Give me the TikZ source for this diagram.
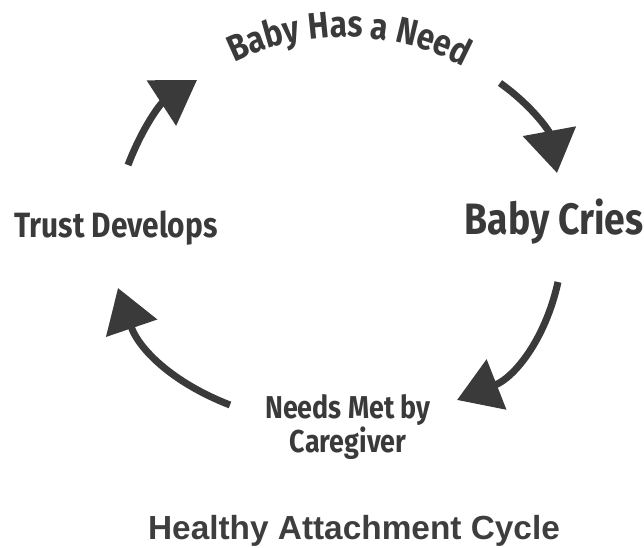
\documentclass[tikz,border=0pt]{standalone}
\usepackage{fontspec}
\newfontfamily\cyclefont[FakeStretch=0.85]{Fira Sans}
\newfontfamily\titlefont{Liberation Sans}
\definecolor{InkGray}{RGB}{58,58,58}
\definecolor{TitleGray}{RGB}{62,62,62}
\usetikzlibrary{arrows.meta,decorations.text}

\begin{document}
\begin{tikzpicture}[
  x=0.02cm, y=0.02cm,
  stage/.style={
    font=\cyclefont\bfseries,
    text=InkGray,
    inner sep=0pt,
    anchor=base
  },
  cyclearrow/.style={-{Triangle[length=0.85cm,width=1.05cm]},line width=4pt,InkGray,bend left=#1},
  cyclearrow/.default=22
]
\useasboundingbox (0,0) rectangle (644,547);

% stages of the cycle
\node[stage,font=\cyclefont\bfseries\fontsize{20}{24}\selectfont] (trust) at (116,309) {Trust Develops};
\node[stage,font=\cyclefont\bfseries\fontsize{25}{30}\selectfont] (cries) at (554,312) {Baby Cries};
\node[stage,anchor=center,align=center,font=\cyclefont\bfseries\fontsize{18}{15.5}\selectfont] (met) at (348,120) {Needs Met by\\Caregiver};
\node[stage,font=\titlefont\bfseries\fontsize{19}{23}\selectfont,text=TitleGray] (title) at (354,8) {Healthy Attachment Cycle};

% curved label on top
\coordinate (needstart) at ([shift={(124:251)}]345,259);
\path[decorate,decoration={text along path,text align=center,text color=InkGray,
  text={|\cyclefont\bfseries\fontsize{21}{25}\selectfont|Baby Has a Need}}]
  (needstart) arc[start angle=124,end angle=54,radius=251];

% arrow ends
\coordinate (a1) at (128,382);
\coordinate (b1) at (197,467);
\coordinate (a2) at (500,464);
\coordinate (b2) at (557,374);
\coordinate (a3) at (558,265);
\coordinate (b3) at (457,147);
\coordinate (a4) at (230,142);
\coordinate (b4) at (118,259);

\draw[cyclearrow=18] (a1) to (b1);
\draw[cyclearrow=22] (a2) to (b2);
\draw[cyclearrow=28] (a3) to (b3);
\draw[cyclearrow=25] (a4) to (b4);
\end{tikzpicture}
\end{document}
